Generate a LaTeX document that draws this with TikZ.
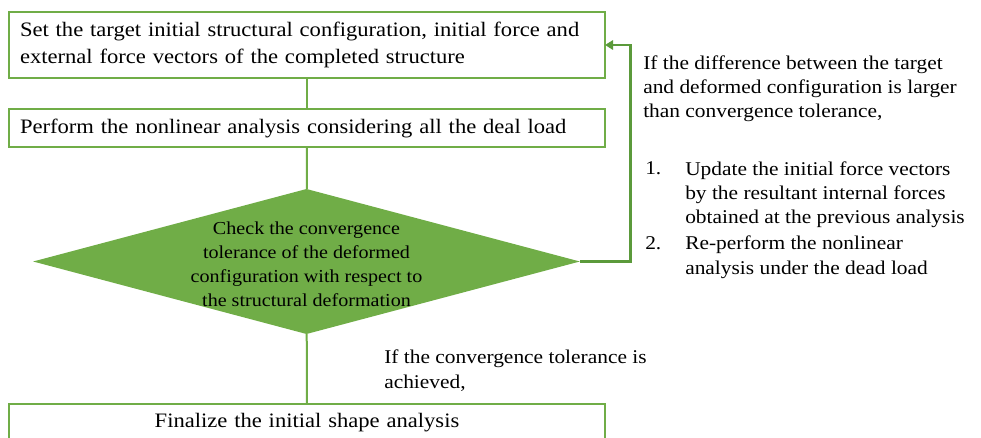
\documentclass[tikz,border=0pt]{standalone}
\usepackage{fontspec}
\setmainfont{Liberation Serif}[FakeStretch=1.1]
\usetikzlibrary{arrows.meta,positioning,shapes.geometric}
\definecolor{flowgreen}{HTML}{70AD47}
\definecolor{loopgreen}{HTML}{5B9A3B}

\begin{document}
\begin{tikzpicture}[
  x=0.75pt, y=-0.75pt,
  stepbox/.style={draw=flowgreen, line width=1.5pt, fill=white, minimum width=447pt,
    text width=430.5pt, align=left, inner xsep=8.25pt, inner ysep=2pt, outer sep=0pt,
    font=\fontsize{15.4}{20.25}\selectfont},
  decision/.style={diamond, fill=flowgreen, minimum width=410pt, minimum height=108.75pt,
    inner sep=0pt, outer sep=0pt},
  dectext/.style={align=center, inner sep=0pt, font=\fontsize{13.7}{18}\selectfont},
  note/.style={align=left, inner sep=0pt, font=\fontsize{14.6}{18.2}\selectfont},
  link/.style={draw=flowgreen, line width=1.5pt},
  back/.style={draw=loopgreen, line width=2.2pt, -{Triangle[length=6pt,width=7pt]}}
]
\useasboundingbox (0,0) rectangle (981,438);

% main column
\node[stepbox, minimum height=49.5pt] (target) at (307,45) {Set the target initial structural configuration, initial force and\\external force vectors of the completed structure};
\node[stepbox, minimum height=28.5pt] (nonlin) at (307,128) {Perform the nonlinear analysis considering all the deal load};
\node[decision] (check) at (306.5,261.5) {};
\node[dectext] (checktxt) at (306.5,264) {Check the convergence\\tolerance of the deformed\\configuration with respect to\\the structural deformation};
\node[stepbox, minimum height=28.5pt, align=center] (final) at (307,423) {Finalize the initial shape analysis};

\draw[link] (target) -- (nonlin);
\draw[link] (nonlin) -- (check);
\draw[link] (check) -- (final);
\draw[back] (check.east) -- ++(51,0) |- (target.east);

% side notes (base = last line)
\node[note, anchor=base west] (differ) at (643,118) {If the difference between the target\\and deformed configuration is larger\\than convergence tolerance,};
\node[note, anchor=base west] (num1) at (645,175) {1.};
\node[note, anchor=base west] (update) at (685,224) {Update the initial force vectors\\by the resultant internal forces\\obtained at the previous analysis};
\node[note, anchor=base west] (num2) at (645,250) {2.};
\node[note, anchor=base west] (redo) at (685,274) {Re-perform the nonlinear\\analysis under the dead load};
\node[note, anchor=base west] (done) at (384,388) {If the convergence tolerance is\\achieved,};
\end{tikzpicture}
\end{document}
